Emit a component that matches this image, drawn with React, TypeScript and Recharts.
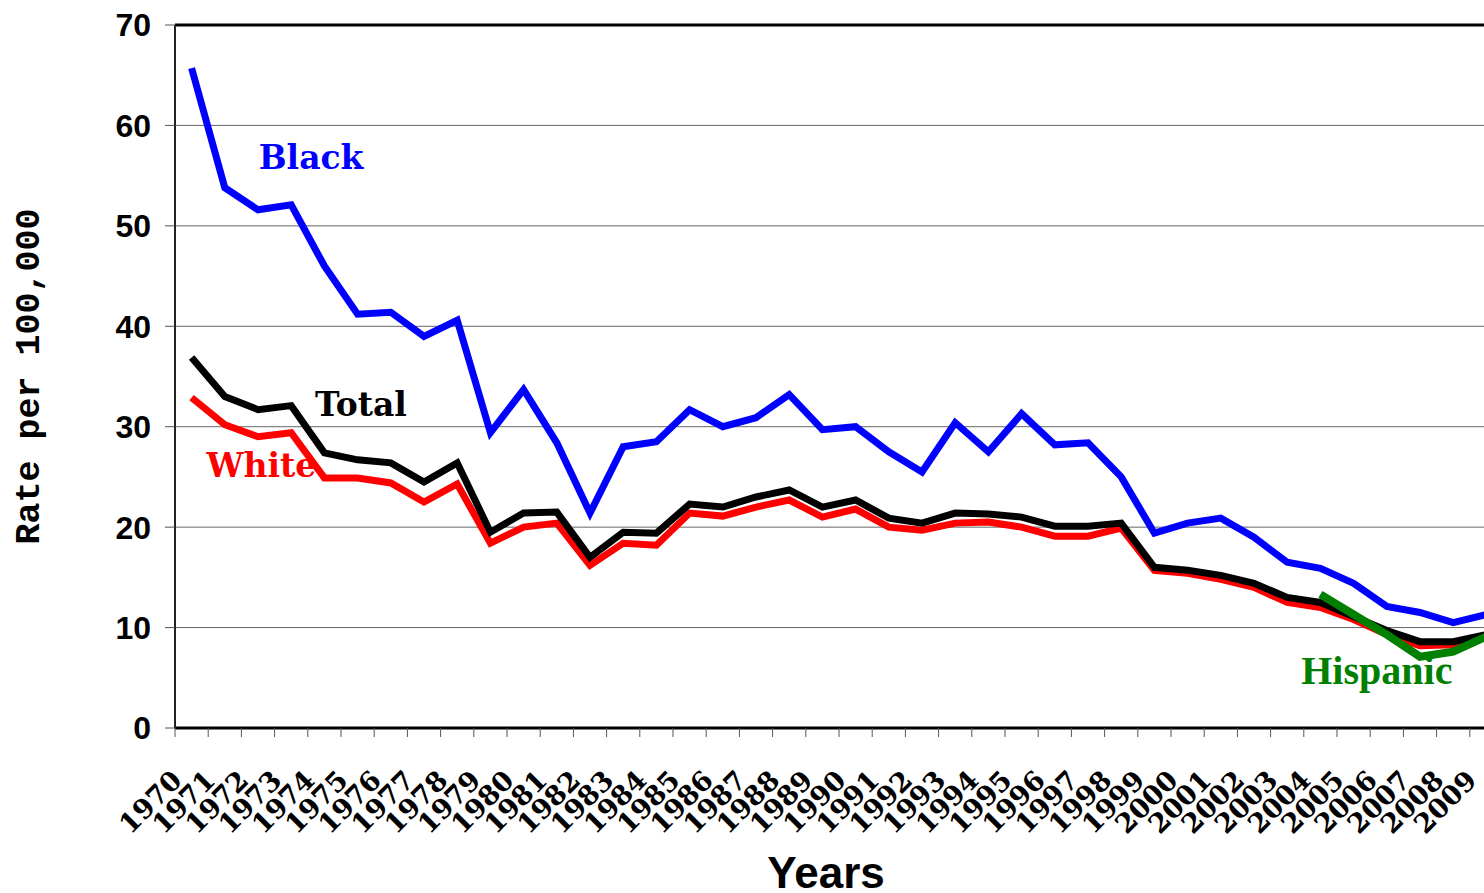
import React from 'react';
import { LineChart, Line, XAxis, YAxis, CartesianGrid, ReferenceLine, ReferenceDot } from 'recharts';

const years = [
  1970, 1971, 1972, 1973, 1974, 1975, 1976, 1977, 1978, 1979,
  1980, 1981, 1982, 1983, 1984, 1985, 1986, 1987, 1988, 1989,
  1990, 1991, 1992, 1993, 1994, 1995, 1996, 1997, 1998, 1999,
  2000, 2001, 2002, 2003, 2004, 2005, 2006, 2007, 2008, 2009,
];
const black = [
  65.7, 53.8, 51.6, 52.1, 46.0, 41.2, 41.4, 39.0, 40.6, 29.4,
  33.7, 28.4, 21.4, 28.0, 28.5, 31.7, 30.0, 30.9, 33.2, 29.7,
  30.0, 27.5, 25.5, 30.4, 27.5, 31.3, 28.2, 28.4, 25.0, 19.4,
  20.4, 20.9, 19.0, 16.5, 15.9, 14.4, 12.1, 11.5, 10.5, 11.3,
];
const total = [
  36.9, 33.0, 31.7, 32.1, 27.4, 26.7, 26.4, 24.5, 26.4, 19.5,
  21.4, 21.5, 17.0, 19.5, 19.4, 22.3, 22.0, 23.0, 23.7, 22.0,
  22.7, 20.9, 20.4, 21.4, 21.3, 21.0, 20.1, 20.1, 20.4, 16.0,
  15.7, 15.2, 14.4, 13.0, 12.5, 11.1, 9.7, 8.6, 8.6, 9.3,
];
const white = [
  32.9, 30.2, 29.0, 29.4, 24.9, 24.9, 24.4, 22.5, 24.3, 18.4,
  20.0, 20.4, 16.2, 18.4, 18.2, 21.4, 21.1, 22.0, 22.7, 21.0,
  21.8, 20.0, 19.7, 20.4, 20.5, 20.0, 19.1, 19.1, 19.9, 15.7,
  15.4, 14.8, 14.0, 12.5, 12.0, 10.8, 9.3, 8.2, 8.3, 9.2,
];
const hispanicYears = [2004, 2005, 2006, 2007, 2008, 2009];
const hispanic = [13.3, 11.3, 9.3, 7.1, 7.6, 9.1];
const yTicks = [0, 10, 20, 30, 40, 50, 60, 70];

const data = years.map((year, i) => {
  const h = hispanicYears.indexOf(year);
  return { year, black: black[i], total: total[i], white: white[i], hispanic: h >= 0 ? hispanic[h] : null };
});

// tick marks sit between years (excel style), labels sit under each year
const xTicks = years.flatMap((y) => [y - 0.5, y]).concat(years[years.length - 1] + 0.5);

const YearTick = (props: any) => {
  const { x, y, payload } = props;
  if (!Number.isInteger(payload.value)) {
    return <line x1={x} y1={y} x2={x} y2={y + 9} stroke="#555" strokeWidth={1} />;
  }
  const tx = x - 8;
  const ty = y + 54;
  return (
    <text x={tx} y={ty} transform={`rotate(-45 ${tx} ${ty})`} textAnchor="end"
      fontFamily="DejaVu Serif" fontWeight="bold" fontSize={27} fill="#000">
      {payload.value}
    </text>
  );
};

const RateLabel = (props: any) => {
  const { viewBox } = props;
  const cy = viewBox.y + viewBox.height / 2;
  return (
    <text x={30} y={cy} transform={`rotate(-90 30 ${cy})`} textAnchor="middle" dominantBaseline="central"
      fontFamily="Liberation Mono" fontWeight="bold" fontSize={35} fill="#000">
      Rate per 100,000
    </text>
  );
};

const YearsLabel = (props: any) => {
  const { viewBox } = props;
  return (
    <text x={viewBox.x + viewBox.width / 2 - 13} y={viewBox.y + 160} textAnchor="middle"
      fontFamily="Liberation Sans" fontWeight="bold" fontSize={44} fill="#000">
      Years
    </text>
  );
};

const seriesFont = { fontWeight: 'bold', fontFamily: 'DejaVu Serif', fontSize: 33 };

export default function App() {
  return (
    <div style={{ position: 'absolute', left: 0, top: 0, width: 1484, height: 893, overflow: 'hidden', background: '#fff' }}>
      <LineChart width={1503} height={893} data={data} margin={{ top: 25, right: 0, left: 0, bottom: 65 }}>
        <CartesianGrid vertical={false} stroke="#666" strokeWidth={1} />
        <XAxis dataKey="year" type="number" domain={[1969.5, 2009.5]} ticks={xTicks} interval={0}
          height={100} tickSize={0} tickMargin={0} tickLine={false} tick={<YearTick />}
          axisLine={{ stroke: '#000', strokeWidth: 3 }} label={YearsLabel} />
        <YAxis width={175} domain={[0, 70]} ticks={yTicks} interval={0} tickSize={10} tickMargin={14}
          tickLine={{ stroke: '#555' }} axisLine={{ stroke: '#222', strokeWidth: 2 }}
          tick={{ fontSize: 32, fontWeight: 'bold', fontFamily: 'Liberation Sans', fill: '#000' }}
          label={RateLabel} />
        <ReferenceLine y={70} stroke="#000" strokeWidth={3} />
        <Line dataKey="black" type="linear" stroke="#0000FF" strokeWidth={7} dot={false} isAnimationActive={false} />
        <Line dataKey="white" type="linear" stroke="#FF0000" strokeWidth={7} dot={false} isAnimationActive={false} />
        <Line dataKey="total" type="linear" stroke="#000000" strokeWidth={7} dot={false} isAnimationActive={false} />
        <Line dataKey="hispanic" type="linear" stroke="#008000" strokeWidth={8} dot={false} isAnimationActive={false} />
        <ReferenceDot x={1973.6} y={56.8} r={0} fill="none" stroke="none"
          label={{ value: 'Black', position: 'center', fill: '#0000FF', ...seriesFont }} />
        <ReferenceDot x={1975.1} y={32.2} r={0} fill="none" stroke="none"
          label={{ value: 'Total', position: 'center', fill: '#000000', ...seriesFont }} />
        <ReferenceDot x={1972.1} y={26.2} r={0} fill="none" stroke="none"
          label={{ value: 'White', position: 'center', fill: '#FF0000', ...seriesFont }} />
        <ReferenceDot x={2005.7} y={5.8} r={0} fill="none" stroke="none"
          label={{ value: 'Hispanic', position: 'center', fill: '#008000', fontWeight: 'bold', fontFamily: 'Liberation Serif', fontSize: 40 }} />
      </LineChart>
    </div>
  );
}
